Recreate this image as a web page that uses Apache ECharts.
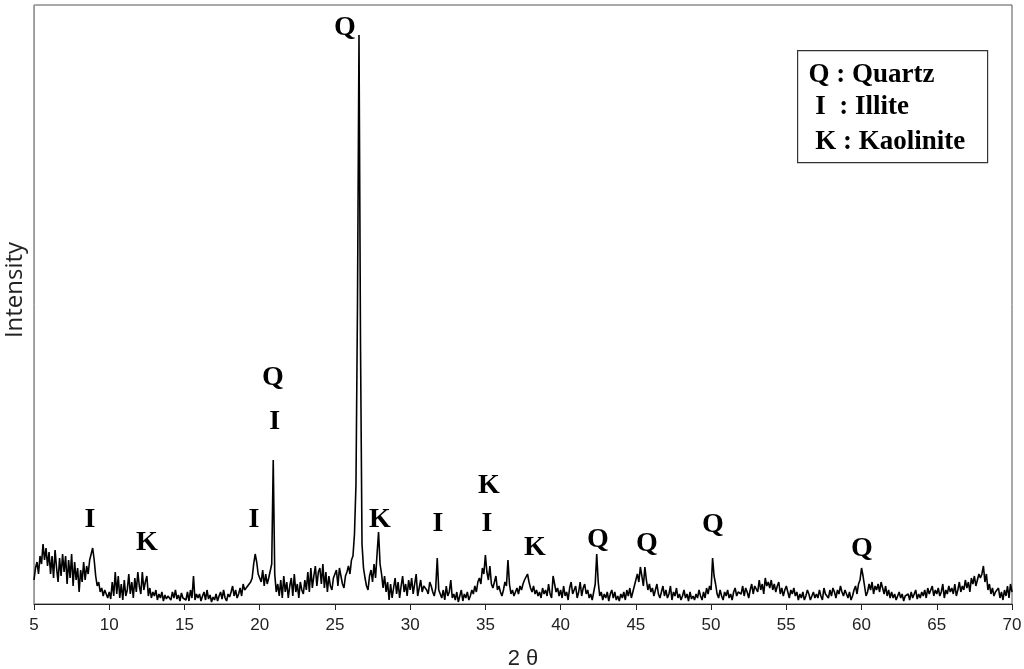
<!DOCTYPE html>
<html>
<head>
<meta charset="utf-8">
<script src="https://cdn.jsdelivr.net/npm/echarts@6/dist/echarts.min.js"></script>
<style>
  html, body { margin: 0; padding: 0; background: #fff; }
  #chart { width: 1024px; height: 669px; }
</style>
</head>
<body>
<div id="chart"></div>
<script>
// 2θ scan: starts at 5°, one reading every 0.1°
var scanStart = 5
var scanStep = 0.1
// intensities (arbitrary units), one row per degree
var intensity = [
  24, 36, 42, 30, 48, 40, 60, 44, 56, 38,
  52, 30, 48, 26, 54, 36, 22, 46, 28, 50,
  32, 48, 20, 44, 26, 50, 18, 42, 24, 36,
  12, 34, 22, 42, 24, 38, 30, 44, 50, 56,
  44, 28, 18, 22, 12, 16, 8, 14, 10, 6,
  12, 5, 22, 8, 32, 10, 28, 6, 20, 4,
  24, 8, 14, 30, 10, 22, 6, 26, 12, 32,
  18, 10, 32, 14, 22, 28, 8, 16, 6, 12,
  8, 14, 4, 10, 6, 12, 3, 9, 5, 8,
  10, 4, 12, 6, 14, 5, 9, 3, 11, 6,
  8, 4, 12, 3, 14, 6, 28, 4, 10, 6,
  10, 3, 8, 12, 4, 14, 5, 9, 2, 7,
  4, 10, 3, 8, 12, 5, 14, 6, 3, 10,
  7, 12, 18, 8, 14, 6, 10, 16, 8, 20,
  14, 12, 18, 16, 22, 26, 40, 50, 42, 30,
  28, 22, 34, 18, 30, 20, 26, 24, 40, 144,
  30, 12, 20, 8, 24, 6, 28, 12, 22, 6,
  18, 26, 8, 30, 12, 20, 6, 22, 14, 10,
  24, 14, 32, 12, 36, 16, 28, 38, 18, 32,
  36, 20, 40, 16, 32, 12, 28, 18, 14, 26,
  30, 34, 18, 36, 28, 20, 16, 28, 32, 38,
  30, 44, 48, 70, 120, 300, 569, 260, 60, 36,
  26, 18, 14, 28, 34, 22, 40, 26, 50, 72,
  40, 30, 16, 28, 12, 22, 4, 20, 6, 16,
  26, 10, 22, 6, 18, 28, 12, 20, 8, 24,
  14, 26, 10, 20, 30, 8, 16, 24, 12, 18,
  20, 14, 10, 22, 18, 12, 8, 16, 46, 14,
  10, 6, 14, 4, 18, 8, 12, 24, 6, 10,
  4, 12, 2, 8, 14, 3, 10, 6, 12, 4,
  8, 14, 10, 18, 12, 22, 26, 20, 36, 30,
  49, 32, 24, 38, 20, 16, 22, 28, 14, 18,
  12, 8, 14, 22, 18, 44, 20, 10, 14, 8,
  12, 16, 10, 18, 14, 20, 24, 26, 30, 22,
  16, 12, 18, 10, 14, 8, 12, 6, 16, 10,
  14, 8, 20, 10, 6, 28, 30, 12, 16, 8,
  14, 6, 18, 8, 12, 4, 16, 22, 10, 14,
  18, 6, 12, 22, 8, 16, 20, 10, 14, 6,
  10, 4, 12, 20, 50, 22, 8, 12, 4, 10,
  6, 12, 3, 10, 14, 6, 12, 4, 8, 3,
  10, 6, 12, 4, 14, 8, 16, 6, 12, 18,
  24, 30, 22, 37, 28, 18, 37, 24, 14, 20,
  12, 16, 8, 14, 20, 10, 6, 12, 18, 8,
  14, 6, 10, 18, 4, 12, 8, 16, 6, 10,
  4, 8, 14, 6, 10, 3, 12, 5, 8, 4,
  10, 6, 14, 8, 4, 12, 6, 16, 10, 18,
  14, 46, 28, 20, 10, 6, 14, 8, 4, 12,
  8, 14, 6, 10, 4, 12, 16, 8, 12, 14,
  10, 18, 8, 16, 12, 6, 14, 20, 10, 18,
  16, 12, 24, 14, 20, 10, 26, 18, 22, 16,
  24, 14, 20, 12, 18, 22, 10, 16, 8, 14,
  18, 12, 6, 14, 10, 16, 8, 12, 4, 10,
  6, 12, 4, 8, 14, 10, 4, 8, 12, 6,
  10, 6, 14, 8, 4, 16, 10, 12, 6, 14,
  8, 16, 12, 6, 14, 10, 18, 12, 8, 14,
  10, 6, 12, 4, 8, 14, 18, 10, 20, 24,
  36, 28, 18, 8, 12, 20, 14, 22, 10, 18,
  14, 20, 12, 22, 16, 10, 18, 8, 14, 6,
  12, 6, 10, 4, 8, 12, 6, 10, 3, 8,
  6, 10, 4, 12, 6, 8, 14, 5, 10, 6,
  12, 8, 14, 6, 16, 10, 12, 18, 8, 14,
  10, 16, 8, 12, 20, 6, 14, 10, 18, 12,
  16, 10, 20, 8, 14, 22, 12, 18, 14, 24,
  16, 22, 12, 26, 20, 28, 18, 24, 30, 26,
  30, 38, 22, 30, 14, 20, 10, 16, 8, 12,
  10, 16, 6, 12, 4, 14, 8, 18, 6, 20,
  12
]

// phase labels above the peaks
var peakText = ['Q', 'Q', 'I', 'I', 'K', 'I', 'K', 'I', 'K', 'I', 'K', 'Q', 'Q', 'Q', 'Q']
var peakX = [25.66, 20.88, 21.0, 8.72, 12.5, 19.62, 27.99, 31.84, 35.23, 35.1, 38.29, 42.47, 45.73, 50.12, 60.02]
var peakY = [576, 226, 182, 84, 61, 84, 84, 80, 118, 80, 56, 64, 60, 79, 55]

var xTicks = { min: 5, max: 70, interval: 5 }

var legendLines = ['Q : Quartz', ' I  : Illite', ' K : Kaolinite']

var chart = echarts.init(document.getElementById('chart'))

var lineData = intensity.map(function(v, i) {
  return [+(scanStart + i * scanStep).toFixed(2), v]
})
var labelData = peakText.map(function(t, i) {
  return { value: [peakX[i], peakY[i]], name: t }
})

var serif = '"Liberation Serif", "Times New Roman", serif'
var sans = '"Liberation Sans Narrow", "Liberation Sans", sans-serif'

chart.setOption({
  animation: false,
  grid: {
    left: 34,
    right: 12,
    top: 5,
    bottom: 65,
    outerBoundsMode: 'none',
    show: true,
    borderColor: '#555',
    borderWidth: 1
  },
  xAxis: {
    type: 'value',
    min: xTicks.min,
    max: xTicks.max,
    interval: xTicks.interval,
    name: '2 θ',
    nameLocation: 'middle',
    nameGap: 44,
    nameTextStyle: { fontSize: 22, color: '#222', fontFamily: sans },
    axisLine: { lineStyle: { color: '#222', width: 1 } },
    axisTick: { show: true, inside: false, length: 6, lineStyle: { color: '#222' } },
    axisLabel: { fontSize: 17, color: '#222', margin: 13, fontFamily: sans },
    splitLine: { show: false }
  },
  yAxis: {
    type: 'value',
    min: 0,
    max: 599,
    axisLine: { show: true, lineStyle: { color: '#999' } },
    axisTick: { show: false },
    axisLabel: { show: false },
    splitLine: { show: false }
  },
  series: [
    {
      type: 'line',
      data: lineData,
      symbol: 'none',
      lineStyle: { color: '#000', width: 1.6 }
    },
    {
      type: 'scatter',
      data: labelData,
      symbolSize: 0,
      itemStyle: { opacity: 1 },
      label: {
        show: true,
        position: 'inside',
        formatter: '{b}',
        fontFamily: serif,
        fontWeight: 'bold',
        fontSize: 28,
        color: '#000'
      }
    }
  ],
  graphic: [
    {
      type: 'text',
      x: 15,
      y: 290,
      rotation: Math.PI / 2,
      style: {
        text: 'Intensity',
        font: '24px "Open Sans", "Noto Sans", sans-serif',
        fill: '#222',
        align: 'center',
        verticalAlign: 'middle'
      }
    },
    {
      type: 'group',
      left: 797,
      top: 50,
      children: [
        {
          type: 'rect',
          shape: { x: 0, y: 0, width: 190, height: 112 },
          style: { fill: '#fff', stroke: '#333', lineWidth: 1.2 }
        },
        {
          type: 'text',
          x: 11,
          y: 24,
          style: { text: legendLines[0], font: 'bold 27px ' + serif, fill: '#000', verticalAlign: 'middle' }
        },
        {
          type: 'text',
          x: 11,
          y: 56,
          style: { text: legendLines[1], font: 'bold 27px ' + serif, fill: '#000', verticalAlign: 'middle' }
        },
        {
          type: 'text',
          x: 11,
          y: 91,
          style: { text: legendLines[2], font: 'bold 27px ' + serif, fill: '#000', verticalAlign: 'middle' }
        }
      ]
    }
  ]
})
</script>
</body>
</html>
